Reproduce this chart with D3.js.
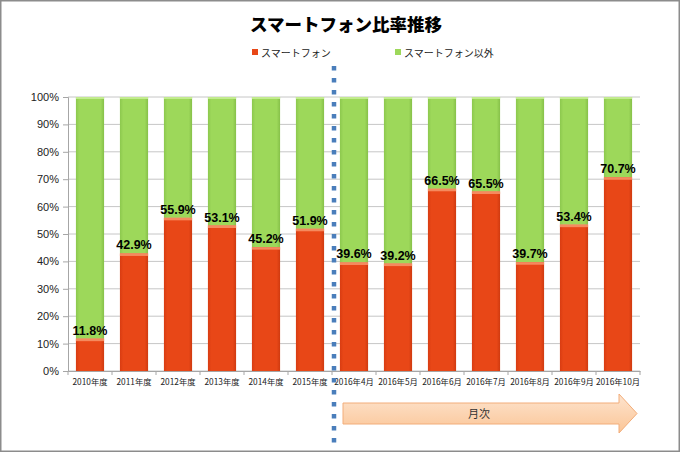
<!DOCTYPE html>
<html><head><meta charset="utf-8">
<script src="https://cdn.jsdelivr.net/npm/d3@7"></script>
<style>body{margin:0;background:#fff}</style>
</head><body>
<script>
const categories = ["2010年度","2011年度","2012年度","2013年度","2014年度","2015年度","2016年4月","2016年5月","2016年6月","2016年7月","2016年8月","2016年9月","2016年10月"];
const smartphone = [11.8,42.9,55.9,53.1,45.2,51.9,39.6,39.2,66.5,65.5,39.7,53.4,70.7];
const others = smartphone.map(v => +(100 - v).toFixed(1));
const seriesNames = ["スマートフォン","スマートフォン以外"];
const yTicks = [0,10,20,30,40,50,60,70,80,90,100];
const title = "スマートフォン比率推移";
const arrowLabel = "月次";

(function(){
const W = 680, H = 452;
const svg = d3.select("body").append("svg").attr("width", W).attr("height", H);
const defs = svg.append("defs");
const g1 = defs.append("linearGradient").attr("id","arrowGrad").attr("x1",0).attr("y1",0).attr("x2",0).attr("y2",1);
g1.append("stop").attr("offset","0%").attr("stop-color","#fde4cf");
g1.append("stop").attr("offset","100%").attr("stop-color","#fbc596");
const gr = defs.append("linearGradient").attr("id","redGrad").attr("x1",0).attr("x2",1).attr("y1",0).attr("y2",0);
gr.append("stop").attr("offset","0%").attr("stop-color","#d83c12");
gr.append("stop").attr("offset","12%").attr("stop-color","#e84717");
gr.append("stop").attr("offset","88%").attr("stop-color","#e84717");
gr.append("stop").attr("offset","100%").attr("stop-color","#cf3a10");
const gg = defs.append("linearGradient").attr("id","greenGrad").attr("x1",0).attr("x2",1).attr("y1",0).attr("y2",0);
gg.append("stop").attr("offset","0%").attr("stop-color","#8cc84e");
gg.append("stop").attr("offset","12%").attr("stop-color","#9dd85a");
gg.append("stop").attr("offset","88%").attr("stop-color","#9dd85a");
gg.append("stop").attr("offset","100%").attr("stop-color","#86c049");

svg.append("rect").attr("x",0.75).attr("y",0.75).attr("width",W-1.5).attr("height",H-1.5)
  .attr("fill","#fff").attr("stroke","#8c8c8c").attr("stroke-width",1.5);

const pL = 68, pR = 640, pT = 97, pB = 371;
const x = d3.scaleBand().domain(categories).range([pL, pR]).paddingInner(0.36).paddingOuter(0.18);
const y = d3.scaleLinear().domain([0,100]).range([pB, pT]);

svg.append("g").selectAll("line").data(yTicks).join("line")
  .attr("x1", pL).attr("x2", pR).attr("y1", d => y(d)).attr("y2", d => y(d))
  .attr("stroke","#c6c6c6").attr("stroke-width",1);

const yAxis = d3.axisLeft(y).tickValues(yTicks).tickFormat(d => d + "%").tickSize(5);
const ya = svg.append("g").attr("transform",`translate(${pL},0)`).call(yAxis);
ya.select(".domain").attr("stroke","#a6a6a6");
ya.selectAll(".tick line").attr("stroke","#a6a6a6");
ya.selectAll(".tick text").attr("font-family","Liberation Sans, Arial, sans-serif").attr("font-size",11).attr("fill","#222").attr("x",-9);

const xAxis = d3.axisBottom(x).tickSize(0);
const xa = svg.append("g").attr("transform",`translate(0,${pB})`).call(xAxis);
xa.select(".domain").attr("stroke","#a6a6a6");
xa.selectAll(".tick text").attr("font-family","Noto Sans CJK JP, sans-serif").attr("font-size",8.3).attr("fill","#222").attr("dy","0.35em").attr("y",11);
svg.append("g").selectAll("line").data(d3.range(categories.length+1)).join("line")
  .attr("x1", i => pL + i*(pR-pL)/categories.length).attr("x2", i => pL + i*(pR-pL)/categories.length)
  .attr("y1", pB).attr("y2", pB+4).attr("stroke","#a6a6a6");

const bars = svg.append("g");
categories.forEach((c,i) => {
  const bx = x(c), bw = x.bandwidth();
  const s = smartphone[i];
  bars.append("rect").attr("x",bx).attr("y",y(100)).attr("width",bw).attr("height",y(s)-y(100)).attr("fill","url(#greenGrad)");
  bars.append("rect").attr("x",bx).attr("y",y(100)).attr("width",bw).attr("height",2).attr("fill","#c2eb8e");
  bars.append("rect").attr("x",bx).attr("y",y(s)).attr("width",bw).attr("height",y(0)-y(s)).attr("fill","url(#redGrad)");
  bars.append("rect").attr("x",bx).attr("y",y(s)).attr("width",bw).attr("height",2.5).attr("fill","#f58a5e");
  svg.append("text").attr("x",bx+bw/2).attr("y",y(s)-4).attr("text-anchor","middle")
    .attr("font-family","Liberation Sans, Arial, sans-serif").attr("font-weight","bold").attr("font-size",12.5)
    .attr("fill","#000").text(s.toFixed(1)+"%");
});

svg.append("text").attr("x",346).attr("y",31).attr("text-anchor","middle")
  .attr("font-family","Noto Sans CJK JP, sans-serif").attr("font-weight","900").attr("font-size",17.5)
  .attr("fill","#000").text(title);

const legendColors = ["#e84717","#9dd85a"];
const legendX = [252, 395];
seriesNames.forEach((n,i) => {
  svg.append("rect").attr("x",legendX[i]).attr("y",49).attr("width",6).attr("height",6).attr("fill",legendColors[i]);
  svg.append("text").attr("x",legendX[i]+9).attr("y",53).attr("dy","0.35em")
    .attr("font-family","Noto Sans CJK JP, sans-serif").attr("font-size",10).attr("fill","#222").text(n);
});

const divX = pL + 6*(pR-pL)/categories.length + 2;
svg.append("line").attr("x1",divX).attr("x2",divX).attr("y1",66).attr("y2",446)
  .attr("stroke","#4a7ebb").attr("stroke-width",4.5).attr("stroke-dasharray","4.5,7.5");

const ax0 = 343, ax1 = 619, atip = 637, ay0 = 403, ay1 = 424, ah0 = 394, ah1 = 433;
svg.append("path")
  .attr("d",`M${ax0},${ay0} L${ax1},${ay0} L${ax1},${ah0} L${atip},${(ah0+ah1)/2} L${ax1},${ah1} L${ax1},${ay1} L${ax0},${ay1} Z`)
  .attr("fill","url(#arrowGrad)").attr("stroke","#f2ad7a").attr("stroke-width",1);
svg.append("text").attr("x",468).attr("y",414).attr("dy","0.35em")
  .attr("font-family","Noto Sans CJK JP, sans-serif").attr("font-size",11).attr("fill","#333").text(arrowLabel);
})();
</script>
</body></html>
